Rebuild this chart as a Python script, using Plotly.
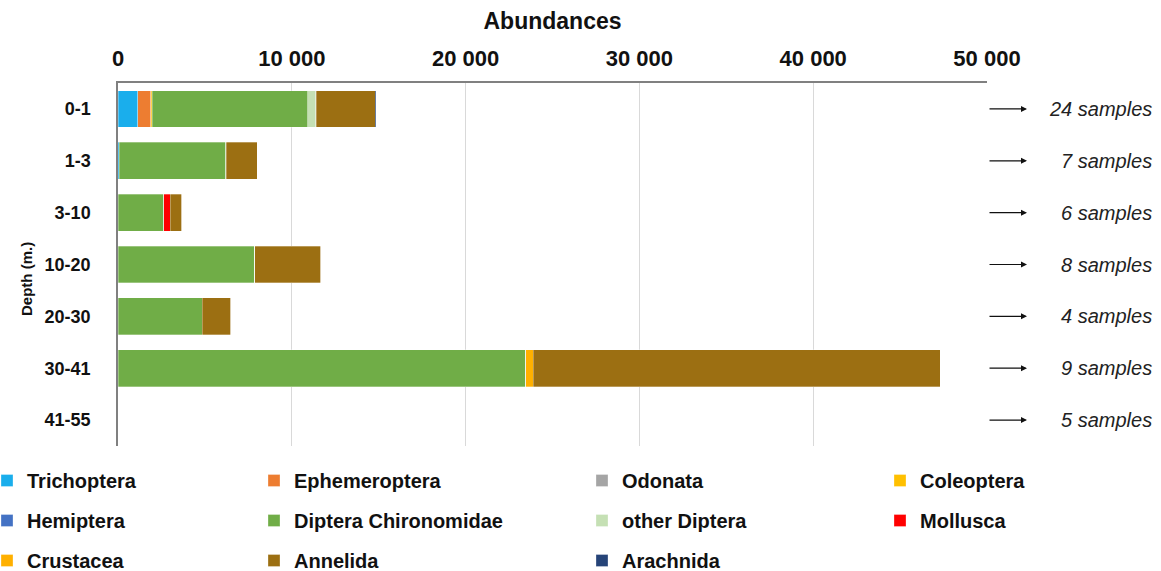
import plotly.graph_objects as go

depths = ["0-1", "1-3", "3-10", "10-20", "20-30", "30-41", "41-55"]
samples = ["24 samples", "7 samples", "6 samples", "8 samples", "4 samples", "9 samples", "5 samples"]

taxa = ["Trichoptera", "Ephemeroptera", "Odonata", "Coleoptera",
        "Hemiptera", "Diptera Chironomidae", "other Diptera", "Mollusca",
        "Crustacea", "Annelida", "Arachnida"]

trichoptera = [1150, 80, 0, 0, 0, 0, 0]
ephemeroptera = [720, 0, 0, 0, 0, 0, 0]
odonata = [30, 0, 0, 0, 0, 0, 0]
coleoptera = [60, 0, 0, 0, 0, 0, 0]
hemiptera = [20, 0, 0, 0, 0, 0, 0]
diptera_chironomidae = [8950, 6080, 2640, 7880, 4850, 23450, 0]
other_diptera = [450, 60, 0, 0, 0, 0, 0]
mollusca = [40, 0, 360, 0, 0, 0, 0]
crustacea = [0, 0, 0, 0, 0, 440, 0]
annelida = [3380, 1780, 670, 3780, 1650, 23430, 0]
arachnida = [50, 0, 0, 0, 0, 0, 0]

values = [trichoptera, ephemeroptera, odonata, coleoptera, hemiptera,
          diptera_chironomidae, other_diptera, mollusca, crustacea, annelida, arachnida]

colors = ["#1AAEEC", "#ED7D31", "#A5A5A5", "#FFC000", "#4472C4", "#70AD47",
          "#C5E0B4", "#FF0000", "#FFB000", "#9C6F12", "#264478"]

tick_vals = [0, 10000, 20000, 30000, 40000, 50000]
tick_text = ["0", "10 000", "20 000", "30 000", "40 000", "50 000"]

FONT = "Liberation Sans, Arial, sans-serif"

fig = go.Figure()
legend_names = ["legend", "legend2", "legend3", "legend4"]
for i, (name, vals, col) in enumerate(zip(taxa, values, colors)):
    fig.add_trace(go.Bar(
        y=depths, x=vals, name=name, orientation="h",
        marker=dict(color=col, line=dict(color="rgba(255,255,255,0.6)", width=0.5)),
        width=0.71, legend=legend_names[i % 4], legendgroup=name,
    ))

W, H = 1161, 571
L, R, T, B = 118, 174, 83, 125
pw = W - L - R
ph = H - T - B

def px_to_paper(px):
    return (px - L) / pw

def py_to_paper(py):
    return (H - B - py) / ph

legend_text_starts = [27, 294, 622, 920]
legend_common = dict(
    orientation="v", xref="paper", yref="paper", y=py_to_paper(461), yanchor="top",
    xanchor="left", bgcolor="rgba(0,0,0,0)", tracegroupgap=11,
    font=dict(family=FONT, size=20, color="#111", weight="bold"), itemwidth=30,
)
layout_legends = {}
for k, nm in enumerate(legend_names):
    layout_legends[nm] = dict(legend_common, x=px_to_paper(legend_text_starts[k] - 40))

annotations = []
for d, s in zip(depths, samples):
    annotations.append(dict(
        x=px_to_paper(1027), y=d, xref="paper", yref="y", text="",
        showarrow=True, ax=-39, ay=0, arrowhead=2, arrowsize=1,
        arrowwidth=1.2, arrowcolor="#111",
    ))
    annotations.append(dict(
        x=px_to_paper(1154), y=d, xref="paper", yref="y", text="<i>" + s + "</i>",
        showarrow=False, xanchor="right", yanchor="middle",
        font=dict(family=FONT, size=20, color="#222"),
    ))
annotations.append(dict(
    x=px_to_paper(26), y=py_to_paper(279), xref="paper", yref="paper",
    text="<b>Depth (m.)</b>", textangle=-90, showarrow=False,
    xanchor="center", yanchor="middle",
    font=dict(family=FONT, size=15, color="#111"),
))

fig.update_layout(
    width=W, height=H,
    margin=dict(l=L, r=R, t=T, b=B, autoexpand=False),
    barmode="stack", bargap=0.29,
    plot_bgcolor="white", paper_bgcolor="white",
    showlegend=True,
    annotations=annotations,
    **layout_legends,
    xaxis=dict(
        side="top", range=[0, 50000], tickvals=tick_vals, ticktext=tick_text,
        showgrid=True, gridcolor="#D9D9D9", gridwidth=1,
        showline=True, linecolor="#808080", linewidth=1.5,
        ticks="", ticklabelstandoff=6, zeroline=False, automargin=False,
        tickfont=dict(family=FONT, size=22, color="#111", weight="bold"),
        title=dict(text="<b>Abundances</b>", standoff=10,
                   font=dict(family=FONT, size=23, color="#111")),
    ),
    yaxis=dict(
        autorange="reversed", showgrid=False, showline=True, automargin=False,
        linecolor="#808080", linewidth=1.5, ticks="", ticklabelstandoff=22,
        tickfont=dict(family=FONT, size=18, color="#111", weight="bold"),
    ),
)

fig.write_html("out.html", config={"displayModeBar": False},
               post_script="document.body.style.margin='0';document.body.style.padding='0';")
